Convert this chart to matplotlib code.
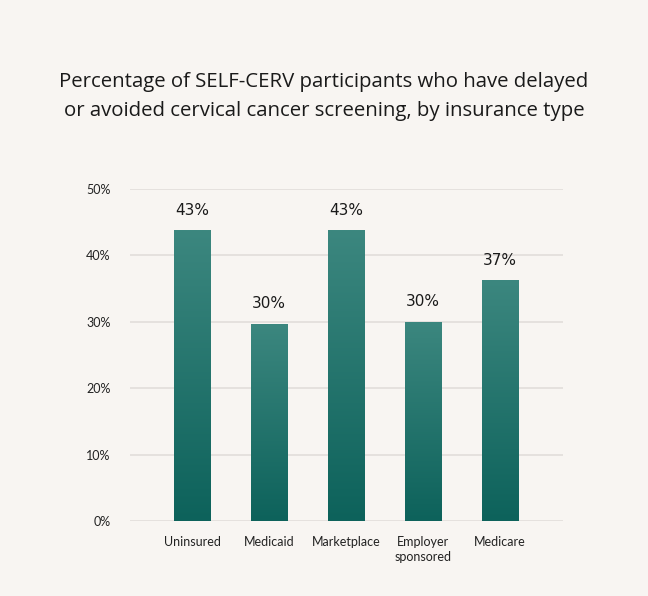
import numpy as np
import matplotlib.pyplot as plt
from matplotlib.colors import LinearSegmentedColormap

# Datos del grafico
categorias = ["Uninsured", "Medicaid", "Marketplace", "Employer\nsponsored", "Medicare"]
valores = [43.8, 29.7, 43.8, 30.0, 36.3]
etiquetas = ["43%", "30%", "43%", "30%", "37%"]
ticks_y = [0, 10, 20, 30, 40, 50]

fondo = "#f8f5f2"
plt.rcParams['font.family'] = ['Lato', 'DejaVu Sans']

fig = plt.figure(figsize=(6.48, 5.96), dpi=100, facecolor=fondo)
ax = fig.add_axes([0.2006, 0.1258, 0.668, 0.557])
ax.set_facecolor(fondo)

# Degradado de las barras: claro arriba, oscuro abajo
cmap = LinearSegmentedColormap.from_list("verde", ["#0d625b", "#3c877f"])
gradiente = np.linspace(0, 1, 256).reshape(-1, 1)

x = np.arange(len(categorias))
ancho = 0.47
barras = ax.bar(x, valores, width=ancho, color="none", zorder=2)
for barra, etiqueta in zip(barras, etiquetas):
    x0 = barra.get_x()
    h = barra.get_height()
    img = ax.imshow(gradiente, extent=[x0, x0 + barra.get_width(), 0, h],
                    origin="lower", aspect="auto", cmap=cmap, zorder=2)
    img.set_clip_path(barra)
    ax.annotate(etiqueta, (x0 + barra.get_width() / 2, h), xytext=(0, 9),
                textcoords="offset points", ha="center", va="bottom",
                fontsize=11, family="DejaVu Sans", color="#1a1a1a")

ax.set_xlim(-0.805, 4.818)
ax.set_ylim(0, 50)
ax.set_yticks(ticks_y)
ax.set_yticklabels([f"{t}%" for t in ticks_y])
ax.set_xticks(x)
ax.set_xticklabels(categorias, linespacing=1.3)
ax.tick_params(axis="both", length=0, labelsize=9, colors="#222222")
ax.tick_params(axis="y", pad=14)
ax.tick_params(axis="x", pad=11)

ax.grid(axis="y", color="#e3dfdc", linewidth=1.3, zorder=0)
ax.set_axisbelow(True)
for lado in ax.spines.values():
    lado.set_visible(False)

fig.text(0.5, 0.838, "Percentage of SELF-CERV participants who have delayed\n"
         "or avoided cervical cancer screening, by insurance type",
         ha="center", va="center", fontsize=14.7, family=["Open Sans", "DejaVu Sans"],
         color="#1a1a1a", linespacing=1.6)

fig.savefig("out.png", dpi=100, facecolor=fondo)
